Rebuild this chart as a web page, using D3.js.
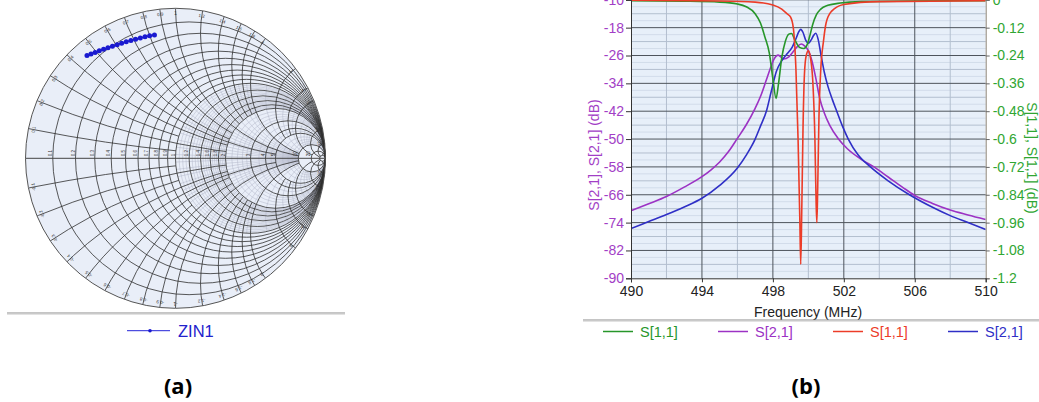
<!DOCTYPE html>
<html>
<head>
<meta charset="utf-8">
<script src="https://cdn.jsdelivr.net/npm/d3@7"></script>
<style>
  body { margin: 0; background: #fff; }
  svg { display: block; font-family: "Liberation Sans", Arial, sans-serif; }
</style>
</head>
<body>
<svg id="chart" width="1039" height="402"></svg>
<script>
// ---- (a) Smith chart: ZIN1 trace, normalised impedance r + jx
const zinRe = [0.061, 0.068, 0.075, 0.082, 0.089, 0.096, 0.103, 0.110, 0.116, 0.122, 0.128, 0.134, 0.139, 0.144, 0.149, 0.154];
const zinIm = [0.457, 0.475, 0.494, 0.514, 0.535, 0.557, 0.580, 0.605, 0.630, 0.656, 0.683, 0.711, 0.740, 0.770, 0.800, 0.832];

// grid values of the Smith chart; each reactance arc stops at the resistance circle given in arcStop
const smithR = [0.1, 0.2, 0.3, 0.4, 0.5, 0.6, 0.7, 0.8, 0.9, 1, 1.2, 1.4, 1.6, 1.8, 2, 3, 4, 5, 10, 20, 50];
const smithX = [0.1, 0.2, 0.3, 0.4, 0.5, 0.6, 0.7, 0.8, 0.9, 1, 1.2, 1.4, 1.6, 1.8, 2, 3, 4, 5, 10, 20, 50];
const arcStop = [1, 2, 1, 2, 5, 2, 1, 2, 1, 10, 2, 2, 2, 2, 10, 5, 5, 20, 50, 50, 50];
const minorR = [1.05, 1.1, 1.15, 1.25, 1.3, 1.35, 1.45, 1.5, 1.55, 1.65, 1.7, 1.75, 1.85, 1.9, 1.95,
                2.2, 2.4, 2.6, 2.8, 3.5, 4.5, 6, 7, 8, 9];
const minorX = [0.05, 0.15, 0.25, 0.35, 0.45, 0.55, 0.65, 0.75, 0.85, 0.95,
                1.1, 1.3, 1.5, 1.7, 1.9, 2.5, 3.5, 4.5, 6, 7, 8, 9];
const smithLabels = [0.1, 0.2, 0.3, 0.4, 0.5, 0.6, 0.7, 0.8, 0.9, 1, 1.2, 1.4, 1.6, 1.8, 2, 3, 4, 5, 10, 20];

// ---- (b) filter responses
const freqTicks = [490, 494, 498, 502, 506, 510];
const s21Ticks = [-90, -82, -74, -66, -58, -50, -42, -34, -26, -18, -10];
const s11Ticks = [-1.2, -1.08, -0.96, -0.84, -0.72, -0.6, -0.48, -0.36, -0.24, -0.12, 0];

const greenFreq = [490, 493, 495, 496, 496.5, 497, 497.3, 497.55, 497.8, 498.0, 498.18, 498.32, 498.5, 498.7, 498.9,
                   499.05, 499.25, 499.5, 499.75, 499.95, 500.1, 500.25, 500.45, 500.7, 501.1, 501.8, 503, 506, 510];
const greenS11 = [-0.004, -0.006, -0.01, -0.018, -0.03, -0.06, -0.1, -0.16, -0.23, -0.34, -0.425, -0.36, -0.25, -0.18, -0.148,
                  -0.145, -0.175, -0.205, -0.21, -0.19, -0.15, -0.105, -0.065, -0.04, -0.024, -0.014, -0.008, -0.005, -0.004];

const purpleFreq = [490, 491, 492, 493, 494, 494.5, 495, 495.5, 496, 496.5, 497, 497.3, 497.6, 497.85, 498.05, 498.3, 498.6,
                    498.9, 499.1, 499.35, 499.6, 499.8, 500, 500.2, 500.4, 500.65, 500.9, 501.2, 501.7, 502.2, 503, 503.7,
                    504.5, 505.3, 506, 507, 508, 509, 510];
const purpleS21 = [-70.6, -68.6, -66.5, -63.8, -60.8, -58.9, -56.6, -53.6, -49.8, -45.9, -41.2, -37.8, -33.5, -29.8, -27.2, -25.9, -27.0,
                   -26.4, -25.2, -23.6, -22.7, -23.3, -24.6, -27.5, -32.0, -38.5, -42.5, -46.0, -50.0, -52.8, -55.9, -58.0,
                   -60.9, -63.8, -66.2, -68.5, -70.4, -71.8, -73.1];

const redFreq = [490, 495, 497, 498, 498.5, 498.8, 499.0, 499.15, 499.3, 499.42, 499.52, 499.57, 499.63, 499.7, 499.78, 499.88,
                 500.0, 500.12, 500.25, 500.37, 500.44, 500.48, 500.53, 500.6, 500.7, 500.85, 501.0, 501.3, 502, 504, 510];
const redS11 = [-0.002, -0.005, -0.01, -0.022, -0.04, -0.06, -0.075, -0.12, -0.3, -0.6, -0.95, -1.14, -0.9, -0.55, -0.32, -0.24,
                -0.22, -0.25, -0.35, -0.6, -0.88, -0.96, -0.8, -0.5, -0.3, -0.18, -0.1, -0.05, -0.02, -0.008, -0.004];

const blueFreq = [490, 491, 492, 493, 494, 495, 496, 496.5, 497, 497.3, 497.65, 497.9, 498.2, 498.5, 498.8, 499.1, 499.3, 499.45,
                  499.57, 499.7, 499.85, 500, 500.15, 500.3, 500.42, 500.55, 500.7, 500.9, 501.1, 501.35, 501.6, 501.9, 502.25,
                  502.8, 503.5, 504.5, 505.7, 507, 508, 509, 510];
const blueS21 = [-75.7, -73.7, -71.7, -69.5, -67.0, -63.3, -58.3, -54.6, -50.0, -46.3, -41.7, -36.5, -30.5, -27.5, -25.5, -23.5, -21.2, -19.3,
                 -18.5, -19.4, -21.6, -22.5, -21.6, -20.2, -19.6, -21.3, -25.5, -30.8, -34.8, -38.6, -42.0, -46.0, -50.0,
                 -54.5, -58.0, -62.0, -66.0, -69.6, -72.0, -74.0, -76.0];

const svg = d3.select('#chart');
svg.append('rect').attr('width', 1039).attr('height', 402).attr('fill', '#fff');
const defs = svg.append('defs');

// reflection coefficient of a normalised impedance
function gamma(r, x) {
  const d = (r + 1) * (r + 1) + x * x;
  return [(r * r + x * x - 1) / d, (2 * x) / d];
}

// =============== (a) Smith chart ===============
const gx = d3.scaleLinear().domain([-1, 1]).range([25.5, 325.5]);
const gy = d3.scaleLinear().domain([-1, 1]).range([308.3, 8.3]);
const unit = gx(1) - gx(0);

function rCircle(sel, r) {
  return sel.append('circle').attr('cx', gx(r / (1 + r))).attr('cy', gy(0)).attr('r', unit / (1 + r));
}
function xCircle(sel, v) {
  return sel.append('circle').attr('cx', gx(1)).attr('cy', gy(1 / v)).attr('r', unit / Math.abs(v));
}

defs.append('clipPath').attr('id', 'unitClip')
  .append('circle').attr('cx', gx(0)).attr('cy', gy(0)).attr('r', unit);
// masks that keep only the part of the chart with resistance below a value
Array.from(new Set(arcStop)).forEach(function (rs) {
  const m = defs.append('mask').attr('id', 'stop' + String(rs).replace('.', '_'))
    .attr('maskUnits', 'userSpaceOnUse').attr('x', 0).attr('y', 0).attr('width', 400).attr('height', 320);
  m.append('circle').attr('cx', gx(0)).attr('cy', gy(0)).attr('r', unit).attr('fill', '#fff');
  rCircle(m, rs).attr('fill', '#000');
});
// fine grid lives between r = 1 and r = 10
const fine = defs.append('mask').attr('id', 'fineMask')
  .attr('maskUnits', 'userSpaceOnUse').attr('x', 0).attr('y', 0).attr('width', 400).attr('height', 320);
rCircle(fine, 1).attr('fill', '#fff');
rCircle(fine, 10).attr('fill', '#000');

const smith = svg.append('g');
smith.append('circle')
  .attr('cx', gx(0)).attr('cy', gy(0)).attr('r', unit)
  .attr('fill', '#e9eef8');

const minorG = smith.append('g').attr('mask', 'url(#fineMask)')
  .attr('fill', 'none').attr('stroke', '#b3b7c8').attr('stroke-width', 0.5);
minorR.forEach(function (r) { rCircle(minorG, r); });
minorX.forEach(function (xv) {
  xCircle(minorG, xv);
  xCircle(minorG, -xv);
});

// main grid
const majorG = smith.append('g').attr('clip-path', 'url(#unitClip)')
  .attr('fill', 'none').attr('stroke', '#2e2e2e').attr('stroke-width', 0.8);
smithR.forEach(function (r) { rCircle(majorG, r); });
smithX.forEach(function (xv, i) {
  const g = majorG.append('g').attr('mask', 'url(#stop' + String(arcStop[i]).replace('.', '_') + ')');
  xCircle(g, xv);
  xCircle(g, -xv);
});
smith.append('line')
  .attr('x1', gx(-1)).attr('x2', gx(1)).attr('y1', gy(0)).attr('y2', gy(0))
  .attr('stroke', '#444').attr('stroke-width', 1);
smith.append('circle')
  .attr('cx', gx(0)).attr('cy', gy(0)).attr('r', unit)
  .attr('fill', 'none').attr('stroke', '#555').attr('stroke-width', 1);

// tiny grid labels
const lab = smith.append('g').attr('font-size', 4.5).attr('fill', '#333');
smithLabels.forEach(function (r) {
  const px = gx(gamma(r, 0)[0]);
  lab.append('text').attr('transform', 'translate(' + (px - 1) + ',' + (gy(0) - 2) + ') rotate(-90)').text(r);
});
smithLabels.forEach(function (xv) {
  [xv, -xv].forEach(function (v) {
    const g = gamma(0, v);
    const ang = Math.atan2(g[1], g[0]);
    const px = gx(0.955 * Math.cos(ang)), py = gy(0.955 * Math.sin(ang));
    lab.append('text')
      .attr('transform', 'translate(' + px + ',' + py + ') rotate(' + (90 - ang * 180 / Math.PI) + ')')
      .attr('text-anchor', 'middle').text(v);
  });
});

// ZIN1 trace
const zinPts = zinRe.map(function (r, i) { return gamma(r, zinIm[i]); });
smith.append('path').datum(zinPts)
  .attr('d', d3.line().x(function (d) { return gx(d[0]); }).y(function (d) { return gy(d[1]); }))
  .attr('fill', 'none').attr('stroke', '#2424d8').attr('stroke-width', 1.5);
smith.selectAll('.zdot').data(zinPts).enter().append('circle')
  .attr('class', 'zdot')
  .attr('cx', function (d) { return gx(d[0]); })
  .attr('cy', function (d) { return gy(d[1]); })
  .attr('r', 2.5).attr('fill', '#1a1ad0');

// separator + legend (a)
svg.append('line').attr('x1', 7).attr('x2', 345).attr('y1', 313).attr('y2', 313).attr('stroke', '#8a8a8a').attr('stroke-width', 1);
svg.append('line').attr('x1', 7).attr('x2', 345).attr('y1', 314.2).attr('y2', 314.2).attr('stroke', '#d6d6d6').attr('stroke-width', 1);
svg.append('line').attr('x1', 127).attr('x2', 170).attr('y1', 330.7).attr('y2', 330.7).attr('stroke', '#2424d8').attr('stroke-width', 1);
svg.append('circle').attr('cx', 150).attr('cy', 330.7).attr('r', 1.8).attr('fill', '#1a1ad0');
svg.append('text').attr('x', 178).attr('y', 337).attr('font-size', 16.5).attr('fill', '#2222cc').text('ZIN1');

// =============== (b) S-parameter plot ===============
const x = d3.scaleLinear().domain([490, 510]).range([631, 985.7]);
const yL = d3.scaleLinear().domain([-90, -10]).range([278.3, -0.2]);
const yR = d3.scaleLinear().domain([-1.2, 0]).range([278.3, -0.2]);

const plot = svg.append('g');
plot.append('rect')
  .attr('x', x(490)).attr('y', yL(-10))
  .attr('width', x(510) - x(490)).attr('height', yL(-90) - yL(-10))
  .attr('fill', '#e7eff9');

// grid
plot.append('g').selectAll('line').data(d3.range(-90, -9, 2).filter(function (v) { return (v + 90) % 4 !== 0; }))
  .enter().append('line')
  .attr('x1', x(490)).attr('x2', x(510))
  .attr('y1', function (d) { return yL(d); }).attr('y2', function (d) { return yL(d); })
  .attr('stroke', '#d2dcea').attr('stroke-width', 1);
plot.append('g').selectAll('line').data(d3.range(-86, -9, 8))
  .enter().append('line')
  .attr('x1', x(490)).attr('x2', x(510))
  .attr('y1', function (d) { return yL(d); }).attr('y2', function (d) { return yL(d); })
  .attr('stroke', '#b3bfcf').attr('stroke-width', 1);
plot.append('g').selectAll('line').data(d3.range(492, 510, 4))
  .enter().append('line')
  .attr('x1', function (d) { return x(d); }).attr('x2', function (d) { return x(d); })
  .attr('y1', yL(-10)).attr('y2', yL(-90))
  .attr('stroke', '#b3bfcf').attr('stroke-width', 1);
plot.append('g').selectAll('line').data(s21Ticks.slice(1))
  .enter().append('line')
  .attr('x1', x(490)).attr('x2', x(510))
  .attr('y1', function (d) { return yL(d); }).attr('y2', function (d) { return yL(d); })
  .attr('stroke', '#4e545c').attr('stroke-width', 1);
plot.append('g').selectAll('line').data(freqTicks.slice(1, -1))
  .enter().append('line')
  .attr('x1', function (d) { return x(d); }).attr('x2', function (d) { return x(d); })
  .attr('y1', yL(-10)).attr('y2', yL(-90))
  .attr('stroke', '#4e545c').attr('stroke-width', 1);

// curves
defs.append('clipPath').attr('id', 'plotClip')
  .append('rect').attr('x', x(490)).attr('y', -5).attr('width', x(510) - x(490)).attr('height', yL(-90) + 5);
const curves = plot.append('g').attr('clip-path', 'url(#plotClip)');

function drawLine(freqs, vals, yScale, color) {
  const pts = freqs.map(function (f, i) { return [f, vals[i]]; });
  curves.append('path').datum(pts)
    .attr('d', d3.line()
      .curve(d3.curveMonotoneX)
      .x(function (d) { return x(d[0]); })
      .y(function (d) { return yScale(d[1]); }))
    .attr('fill', 'none').attr('stroke', color).attr('stroke-width', 1.6);
}
drawLine(purpleFreq, purpleS21, yL, '#9c32c4');
drawLine(blueFreq, blueS21, yL, '#2f2fc6');
drawLine(greenFreq, greenS11, yR, '#27962a');
drawLine(redFreq, redS11, yR, '#ec3c28');

// axes
const axL = plot.append('g').attr('transform', 'translate(' + x(490) + ',0)')
  .call(d3.axisLeft(yL).tickValues(s21Ticks).tickSize(5).tickPadding(2).tickFormat(function (d) { return String(d); }));
axL.select('.domain').attr('stroke', '#333');
axL.selectAll('.tick line').attr('stroke', '#333');
axL.selectAll('text').attr('font-size', 14).attr('fill', '#a23ec6').attr('font-family', '"Liberation Sans", Arial, sans-serif');

const axR = plot.append('g').attr('transform', 'translate(' + x(510) + ',0)')
  .call(d3.axisRight(yR).tickValues(s11Ticks).tickSize(4).tickPadding(3).tickFormat(function (d) { return String(+d.toFixed(2)); }));
axR.select('.domain').attr('stroke', '#8d8577');
axR.selectAll('.tick line').attr('stroke', '#666');
axR.selectAll('text').attr('font-size', 14).attr('fill', '#30a632').attr('font-family', '"Liberation Sans", Arial, sans-serif');

const axB = plot.append('g').attr('transform', 'translate(0,' + yL(-90) + ')')
  .call(d3.axisBottom(x).tickValues(freqTicks).tickSize(4).tickPadding(4).tickFormat(function (d) { return String(d); }));
axB.select('.domain').attr('stroke', '#333');
axB.selectAll('.tick line').attr('stroke', '#333');
axB.selectAll('text').attr('font-size', 14).attr('fill', '#222').attr('font-family', '"Liberation Sans", Arial, sans-serif');

// axis titles
svg.append('text').attr('transform', 'translate(599,155) rotate(-90)')
  .attr('text-anchor', 'middle').attr('font-size', 14).attr('fill', '#a23ec6')
  .text('S[2,1], S[2,1] (dB)');
svg.append('text').attr('transform', 'translate(1027,158) rotate(90)')
  .attr('text-anchor', 'middle').attr('font-size', 14).attr('fill', '#30a632')
  .text('S[1,1], S[1,1] (dB)');
svg.append('text').attr('x', 808).attr('y', 317)
  .attr('text-anchor', 'middle').attr('font-size', 14).attr('fill', '#222')
  .text('Frequency (MHz)');

// separator + legend (b)
svg.append('line').attr('x1', 583).attr('x2', 1039).attr('y1', 320).attr('y2', 320).attr('stroke', '#8a8a8a').attr('stroke-width', 1);
svg.append('line').attr('x1', 583).attr('x2', 1039).attr('y1', 321.2).attr('y2', 321.2).attr('stroke', '#d6d6d6').attr('stroke-width', 1);
const legendItems = [
  {name: 'S[1,1]', color: '#27962a', x0: 603},
  {name: 'S[2,1]', color: '#9c32c4', x0: 718},
  {name: 'S[1,1]', color: '#ec3c28', x0: 833},
  {name: 'S[2,1]', color: '#2f2fc6', x0: 948}
];
legendItems.forEach(function (it) {
  svg.append('line').attr('x1', it.x0).attr('x2', it.x0 + 30).attr('y1', 331.5).attr('y2', 331.5)
    .attr('stroke', it.color).attr('stroke-width', 1.5);
  svg.append('text').attr('x', it.x0 + 37).attr('y', 337).attr('font-size', 14.5)
    .attr('fill', it.color).text(it.name);
});

// panel captions
svg.append('text').attr('x', 178).attr('y', 394).attr('text-anchor', 'middle')
  .attr('font-size', 22).attr('font-weight', 'bold').attr('fill', '#000')
  .attr('font-family', '"Open Sans", sans-serif').text('(a)');
svg.append('text').attr('x', 806).attr('y', 394).attr('text-anchor', 'middle')
  .attr('font-size', 22).attr('font-weight', 'bold').attr('fill', '#000')
  .attr('font-family', '"Open Sans", sans-serif').text('(b)');
</script>
</body>
</html>
